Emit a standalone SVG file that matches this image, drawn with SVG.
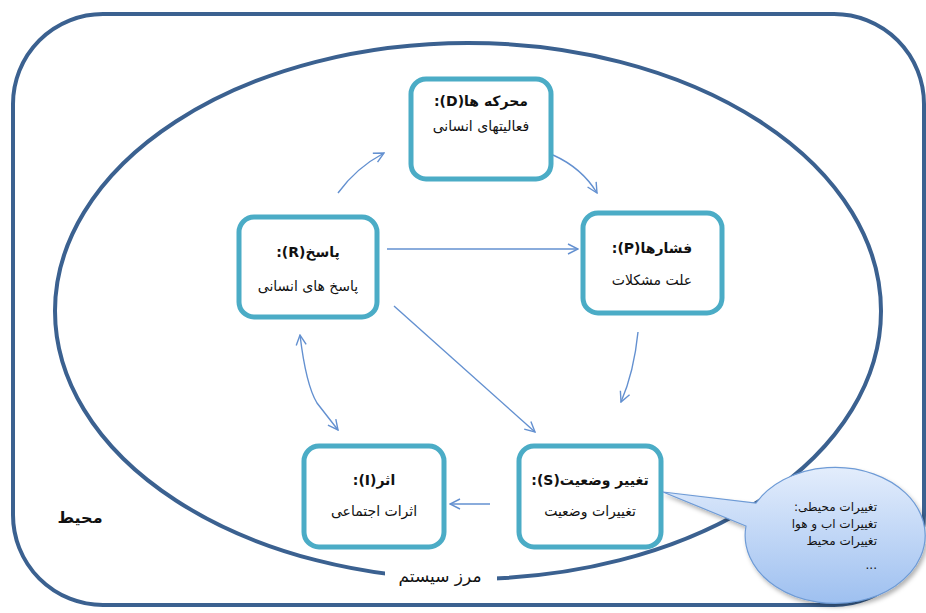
<svg xmlns="http://www.w3.org/2000/svg" width="926" height="613" viewBox="0 0 926 613">
<style>
.frame{fill:none;stroke:#3b6190;stroke-width:4}
.node rect{fill:#fff;stroke:#4bacc6;stroke-width:5}
.t{font-family:"DejaVu Sans",sans-serif;fill:#111;text-anchor:middle;direction:rtl}
.title{font-size:14px;font-weight:bold}
.sub{font-size:14px}
.conn path{fill:none;stroke:#6390d0;stroke-width:1.4}
.ct{font-family:"DejaVu Sans",sans-serif;font-size:12px;fill:#111;text-anchor:start;direction:rtl}
</style>
<defs>
<marker id="ah" viewBox="0 0 12 12" refX="11" refY="6" markerWidth="12" markerHeight="12" markerUnits="userSpaceOnUse" orient="auto-start-reverse">
<path d="M1,1 L11,6 L1,11" fill="none" stroke="#6390d0" stroke-width="1.4"/>
</marker>
<linearGradient id="cg" x1="0" y1="0" x2="0" y2="1">
<stop offset="0" stop-color="#e3edfc"/>
<stop offset="1" stop-color="#9ec0f0"/>
</linearGradient>
<filter id="sh" x="-20%" y="-20%" width="140%" height="140%">
<feDropShadow dx="2" dy="3" stdDeviation="2" flood-color="#000" flood-opacity="0.3"/>
</filter>
</defs>
<rect width="926" height="613" fill="#fff"/>
<g id="environment">
<rect class="frame" x="13" y="14" width="911" height="591" rx="90" ry="90"/>
<text class="t" x="80" y="523" style="font-size:16px;font-weight:bold">محیط</text>
</g>
<g id="system-boundary">
<ellipse class="frame" cx="468" cy="311" rx="413" ry="268"/>
<rect x="385" y="560" width="112" height="30" fill="#fff"/>
<text class="t" x="440" y="582" style="font-size:17px">مرز سیستم</text>
</g>
<g id="connectors" class="conn">
<path d="M338,193 Q356,168 384,153" marker-end="url(#ah)"/>
<path d="M553,155 Q582,168 597,193" marker-end="url(#ah)"/>
<path d="M387,249 L578,249" marker-end="url(#ah)"/>
<path d="M394,306 L535,432" marker-end="url(#ah)"/>
<path d="M638,332 Q634,372 621,402" marker-end="url(#ah)"/>
<path d="M490,504 L450,504" marker-end="url(#ah)"/>
<path d="M300,335 Q306,385 317,403 L338,430" marker-start="url(#ah)" marker-end="url(#ah)"/>
</g>
<g id="node-D" class="node">
<rect x="411" y="79" width="140" height="100" rx="15"/>
<text class="t title" x="481" y="106">محرکه ها(D):</text>
<text class="t sub" x="481" y="131">فعالیتهای انسانی</text>
</g>
<g id="node-R" class="node">
<rect x="239" y="217" width="138" height="100" rx="15"/>
<text class="t title" x="308" y="257">پاسخ(R):</text>
<text class="t sub" x="308" y="291">پاسخ های انسانی</text>
</g>
<g id="node-P" class="node">
<rect x="583" y="213" width="139" height="100" rx="15"/>
<text class="t title" x="652" y="253">فشارها(P):</text>
<text class="t sub" x="652" y="285">علت مشکلات</text>
</g>
<g id="node-I" class="node">
<rect x="304" y="446" width="140" height="101" rx="15"/>
<text class="t title" x="374" y="485">اثر(I):</text>
<text class="t sub" x="374" y="516">اثرات اجتماعی</text>
</g>
<g id="node-S" class="node">
<rect x="519" y="446" width="142" height="101" rx="15"/>
<text class="t title" x="590" y="485">تغییر وضعیت(S):</text>
<text class="t sub" x="590" y="516">تغییرات وضعیت</text>
</g>
<g id="callout">
<path d="M663,492 L756,503 A90,68 0 1 1 746,526 Z" fill="url(#cg)" stroke="#6e9bd6" stroke-width="1.2" filter="url(#sh)"/>
<text class="ct" x="877" y="511">تغییرات محیطی:</text>
<text class="ct" x="877" y="528">تغییرات اب و هوا</text>
<text class="ct" x="877" y="545">تغییرات محیط</text>
<text class="ct" x="877" y="569">...</text>
</g>
</svg>
